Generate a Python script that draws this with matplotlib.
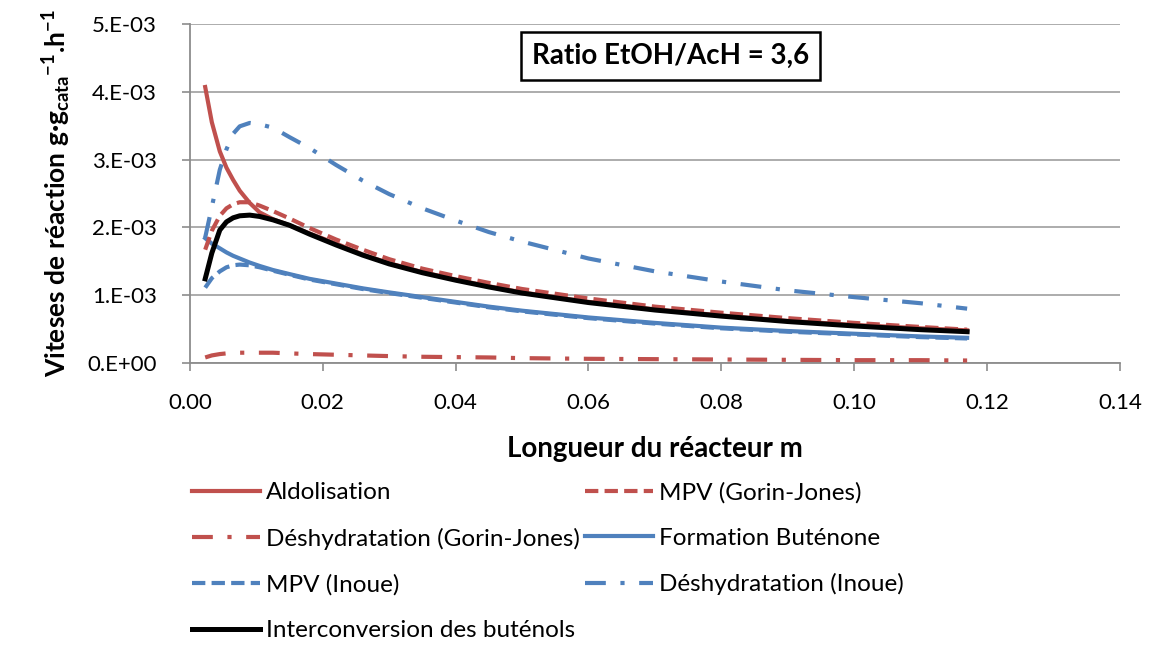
import matplotlib
matplotlib.use("Agg")
import matplotlib.pyplot as plt

plt.rcParams['font.family'] = ['Lato', 'DejaVu Sans']
plt.rcParams['mathtext.default'] = 'regular'

# reactor length (m)
x = [0.0023, 0.0033, 0.0045, 0.0055, 0.0065, 0.0075, 0.009, 0.0105, 0.0125,
     0.015, 0.018, 0.022, 0.026, 0.03, 0.035, 0.04, 0.045, 0.05, 0.06, 0.07,
     0.08, 0.09, 0.10, 0.11, 0.117]

# reaction rates, in 1e-3 g.g_cata^-1.h^-1
aldol = [4.07, 3.55, 3.12, 2.88, 2.70, 2.54, 2.36, 2.22, 2.12, 2.03, 1.91,
         1.76, 1.60, 1.47, 1.34, 1.23, 1.13, 1.04, 0.90, 0.79, 0.70, 0.62,
         0.56, 0.51, 0.48]
mpv_gj = [1.67, 1.95, 2.17, 2.28, 2.34, 2.37, 2.37, 2.32, 2.24, 2.13, 1.99,
          1.82, 1.67, 1.53, 1.39, 1.28, 1.18, 1.09, 0.95, 0.83, 0.74, 0.66,
          0.59, 0.53, 0.49]
desh_gj = [0.08, 0.11, 0.13, 0.14, 0.15, 0.15, 0.15, 0.15, 0.15, 0.14, 0.13,
           0.12, 0.11, 0.10, 0.09, 0.085, 0.08, 0.07, 0.06, 0.055, 0.05, 0.045,
           0.04, 0.04, 0.035]
butenone = [1.84, 1.76, 1.69, 1.63, 1.58, 1.54, 1.48, 1.43, 1.37, 1.31, 1.24,
            1.17, 1.10, 1.04, 0.97, 0.90, 0.83, 0.77, 0.67, 0.59, 0.52, 0.47,
            0.43, 0.39, 0.37]
mpv_inoue = [1.11, 1.25, 1.35, 1.41, 1.44, 1.45, 1.44, 1.41, 1.36, 1.30, 1.23,
             1.16, 1.09, 1.03, 0.96, 0.89, 0.82, 0.76, 0.66, 0.58, 0.51, 0.46,
             0.42, 0.38, 0.36]
desh_inoue = [1.85, 2.30, 2.85, 3.15, 3.38, 3.49, 3.54, 3.52, 3.47, 3.33, 3.17,
              2.92, 2.69, 2.49, 2.28, 2.10, 1.93, 1.79, 1.54, 1.35, 1.20, 1.07,
              0.97, 0.88, 0.80]
interconv = [1.24, 1.62, 1.96, 2.08, 2.14, 2.17, 2.18, 2.16, 2.11, 2.03, 1.90,
             1.74, 1.59, 1.46, 1.33, 1.22, 1.12, 1.03, 0.89, 0.78, 0.69, 0.61,
             0.545, 0.49, 0.46]

RED = '#C0504D'
BLUE = '#4F81BD'
DASH = (0, (3.2, 1.5))
DASHDOT = (0, (5, 3.5, 1, 3.5))

def scaled(vals):
    return [v * 1e-3 for v in vals]

fig = plt.figure(figsize=(11.51, 6.48), dpi=100)
ax = fig.add_axes([0.165, 0.44, 0.808, 0.523])

lw = 3.0
# legend order is column-major: left column first, then right column
series = [
    ('Aldolisation', aldol, RED, '-', lw),
    ('Déshydratation (Gorin-Jones)', desh_gj, RED, DASHDOT, lw),
    ('MPV (Inoue)', mpv_inoue, BLUE, DASH, lw),
    ('Interconversion des buténols', interconv, 'black', '-', 3.6),
    ('MPV (Gorin-Jones)', mpv_gj, RED, DASH, lw),
    ('Formation Buténone', butenone, BLUE, '-', lw),
    ('Déshydratation (Inoue)', desh_inoue, BLUE, DASHDOT, lw),
]
draw_order = [5, 2, 6, 1, 4, 0, 3]

handles = [None] * len(series)
for i in draw_order:
    name, vals, col, ls, w = series[i]
    ln, = ax.plot(x, scaled(vals), color=col, linestyle=ls, linewidth=w,
                  label=name, zorder=3 + draw_order.index(i))
    handles[i] = ln

ax.set_xlim(0, 0.14)
ax.set_ylim(0, 5e-3)
ax.set_xticks([0.00, 0.02, 0.04, 0.06, 0.08, 0.10, 0.12, 0.14])
ax.set_xticklabels(['0.00', '0.02', '0.04', '0.06', '0.08', '0.10', '0.12', '0.14'])
ax.set_yticks([0, 1e-3, 2e-3, 3e-3, 4e-3, 5e-3])
ax.set_yticklabels(['0.E+00', '1.E-03', '2.E-03', '3.E-03', '4.E-03', '5.E-03'])
ax.tick_params(axis='y', direction='out', length=6, width=1.2, color='#8C8C8C',
               labelsize=16, pad=18)
ax.tick_params(axis='x', direction='out', length=6, width=1.2, color='#8C8C8C',
               labelsize=16, pad=16)

ax.grid(axis='y', color='#A6A6A6', linewidth=1.3, zorder=0)
ax.set_axisbelow(True)
for s in ['top', 'right']:
    ax.spines[s].set_visible(False)
for s in ['left', 'bottom']:
    ax.spines[s].set_color('#8C8C8C')
    ax.spines[s].set_linewidth(1.3)

ax.set_xlabel('Longueur du réacteur m', fontsize=20, fontweight='bold', labelpad=16)
ax.set_ylabel('Viteses de réaction g·g$_{cata}$$^{\u2212 1}$.h$^{-1}$',
              fontsize=19, fontweight='bold', labelpad=10)

ax.text(0.517, 0.905, 'Ratio EtOH/AcH = 3,6', transform=ax.transAxes,
        fontsize=20, fontweight='bold', ha='center', va='center',
        bbox=dict(boxstyle='square,pad=0.4', facecolor='white',
                  edgecolor='black', linewidth=1.8), zorder=10)

fig.legend(handles=handles, loc='upper left', bbox_to_anchor=(0.148, 0.29),
           ncol=2, frameon=False, fontsize=17.5, handlelength=2.8,
           handletextpad=0.25, columnspacing=0.2, labelspacing=1.0)

fig.savefig('out.png', dpi=100)
